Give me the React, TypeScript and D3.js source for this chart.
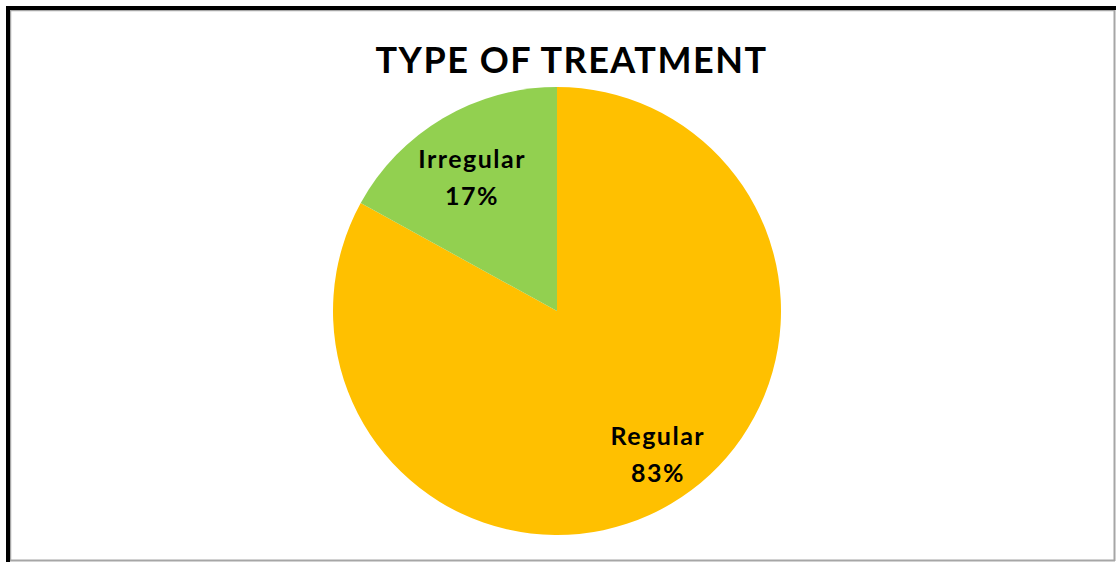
import React from "react";
import * as d3 from "d3";

const categories = ["Regular", "Irregular"];
const values = [83, 17];
const colors = ["#FFC000", "#92D050"];
const title = "TYPE OF TREATMENT";

const W = 1116;
const H = 562;
const cx = 557;
const cy = 311;
const R = 224;

export default function App() {
  const pie = d3
    .pie<number>()
    .sort(null)
    .value((d) => d);
  const arcs = pie(values);
  const arc = d3.arc<d3.PieArcDatum<number>>().innerRadius(0).outerRadius(R);
  const labelArc = d3
    .arc<d3.PieArcDatum<number>>()
    .innerRadius(155)
    .outerRadius(155);
  const total = d3.sum(values);
  const font = "Lato, 'Open Sans', sans-serif";

  return (
    <svg
      width={W}
      height={H}
      style={{ position: "absolute", left: 0, top: 0, background: "#fff" }}
    >
      <rect x={0} y={0} width={W} height={H} fill="#fff" />
      {/* frame */}
      <line x1={1114.5} y1={8} x2={1114.5} y2={561} stroke="#a6a6a6" strokeWidth={2} />
      <line x1={8} y1={560.5} x2={1115} y2={560.5} stroke="#a6a6a6" strokeWidth={2} />
      <line x1={10.5} y1={10} x2={10.5} y2={561} stroke="#a6a6a6" strokeWidth={1.5} />
      <line x1={10} y1={10.5} x2={1115} y2={10.5} stroke="#a6a6a6" strokeWidth={1.5} />
      <rect x={6} y={6} width={1110} height={4} fill="#000" />
      <rect x={6} y={6} width={4} height={556} fill="#000" />

      <text
        x={571.5}
        y={73}
        textAnchor="middle"
        fontFamily={font}
        fontWeight={700}
        fontSize={36}
        letterSpacing={1.5}
        fill="#000"
      >
        {title}
      </text>

      <g transform={`translate(${cx},${cy})`}>
        {arcs.map((a, i) => (
          <path key={categories[i]} d={arc(a) || ""} fill={colors[i]} />
        ))}
        {arcs.map((a, i) => {
          const [cxl, cyl] = labelArc.centroid(a);
          // Excel-style placement sits a little off the pure centroid
          const lx = cxl + (i === 0 ? 22 : -6);
          const ly = cyl + (i === 0 ? 10 : 0);
          const pct = Math.round((values[i] / total) * 100);
          return (
            <text
              key={categories[i] + "-label"}
              textAnchor="middle"
              fontFamily={font}
              fontWeight={700}
              fontSize={25}
              letterSpacing={1.5}
              fill="#000"
            >
              <tspan x={lx} y={ly - 9.5}>
                {categories[i]}
              </tspan>
              <tspan x={lx} y={ly + 27.5}>
                {pct}%
              </tspan>
            </text>
          );
        })}
      </g>
    </svg>
  );
}
